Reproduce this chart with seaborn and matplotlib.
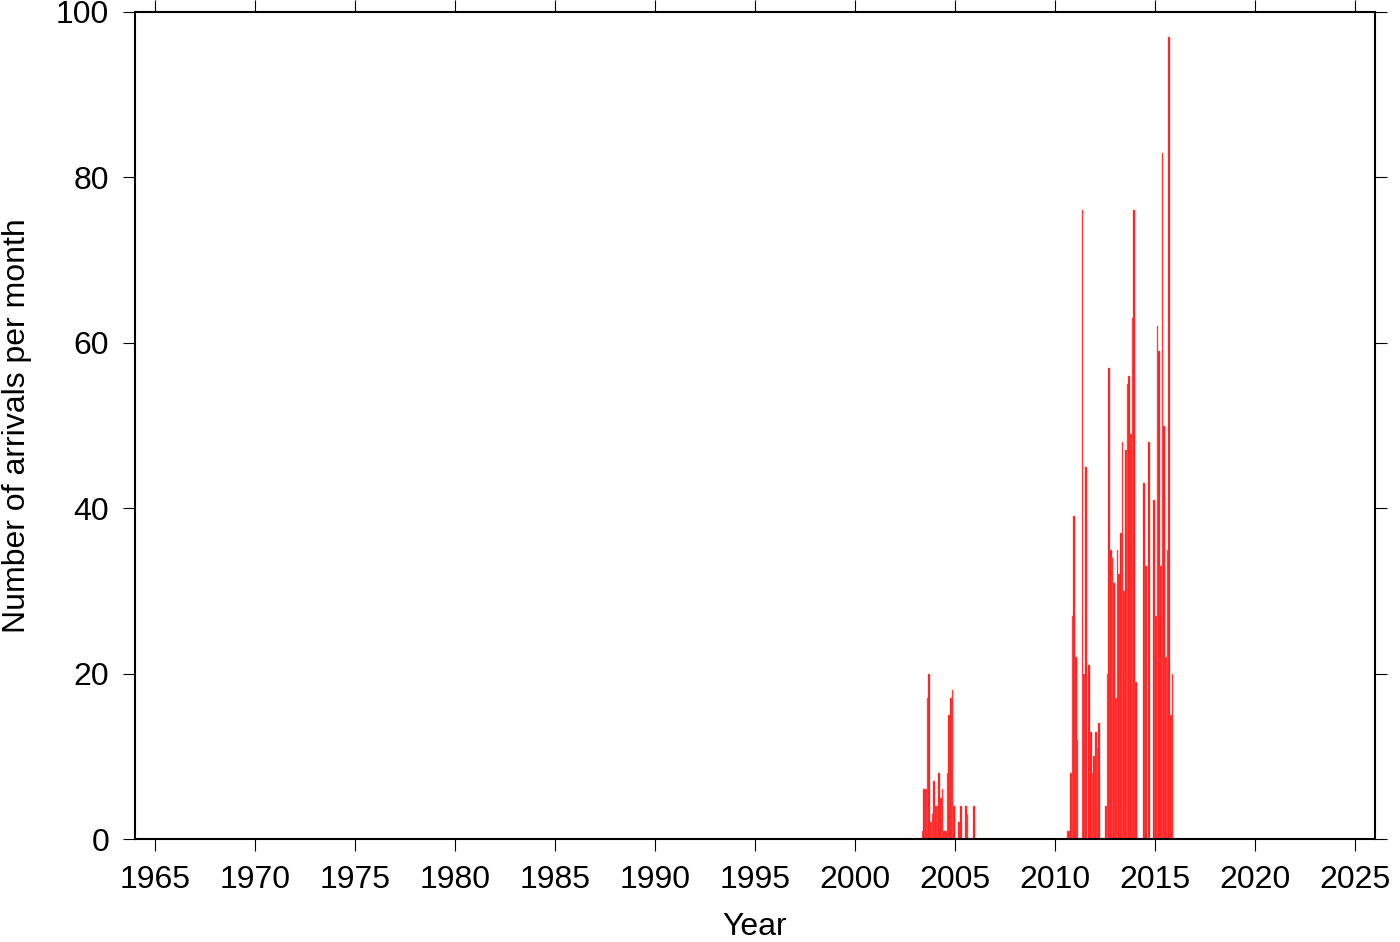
import numpy as np
import pandas as pd
import matplotlib
matplotlib.use('Agg')
import matplotlib.pyplot as plt
import seaborn as sns

# monthly arrival counts, first burst starts May 2003
start_2003 = (2003, 5)
counts_2003 = [1, 6, 6, 17, 20, 2, 3, 7, 4, 4, 8, 5, 6, 1, 1, 8,
               15, 17, 18, 4, 0, 0, 2, 4, 0, 0, 4, 3, 0, 0, 0, 4]

# second burst starts August 2010
start_2010 = (2010, 8)
counts_2010 = [1, 1, 8, 27, 39, 22, 12, 0, 0, 76, 20, 45, 0, 21, 13, 8,
               10, 13, 11, 14, 0, 0, 0, 4, 20, 57, 35, 34, 31, 17, 35, 32,
               37, 48, 30, 47, 55, 56, 49, 63, 76, 19, 0, 0, 0, 0, 43, 33,
               0, 48, 0, 0, 41, 27, 62, 59, 33, 83, 50, 22, 35, 97, 15, 20]

x_ticks = list(range(1965, 2026, 5))
y_ticks = list(range(0, 101, 20))


def month_centres(start, n):
    y, m = start
    return [y + (m - 1 + i + 0.5) / 12 for i in range(n)]


df = pd.DataFrame({
    'year': month_centres(start_2003, len(counts_2003)) + month_centres(start_2010, len(counts_2010)),
    'count': counts_2003 + counts_2010,
})

sns.set_theme(style='ticks')
plt.rcParams['font.family'] = ['Liberation Sans', 'DejaVu Sans']
plt.rcParams['text.color'] = 'black'
plt.rcParams['axes.labelcolor'] = 'black'

fig = plt.figure(figsize=(14, 9.42), dpi=100)
ax = fig.add_axes([0.0964, 0.1093, 0.8857, 0.8780])

sns.histplot(data=df, x='year', weights='count', binwidth=1 / 12,
             binrange=(2003, 2016), ax=ax,
             color='#ff1414', edgecolor='#ff6a6a', linewidth=0.3, alpha=1)

ax.set_xlim(1964, 2026)
ax.set_ylim(0, 100)
ax.set_xticks(x_ticks)
ax.set_yticks(y_ticks)
ax.set_xlabel('Year', fontsize=23, labelpad=12, color='black')
ax.set_ylabel('Number of arrivals per month', fontsize=23, labelpad=17, color='black')
ax.tick_params(axis='both', which='major', direction='out', length=8.6, width=0.8,
               labelsize=23, pad=10, top=True, right=True,
               labeltop=False, labelright=False, color='black', labelcolor='black')
for side in ['left', 'right', 'top', 'bottom']:
    ax.spines[side].set_visible(True)
    ax.spines[side].set_linewidth(1.5)
    ax.spines[side].set_color('black')

fig.savefig('out.png', dpi=100)
plt.close(fig)
